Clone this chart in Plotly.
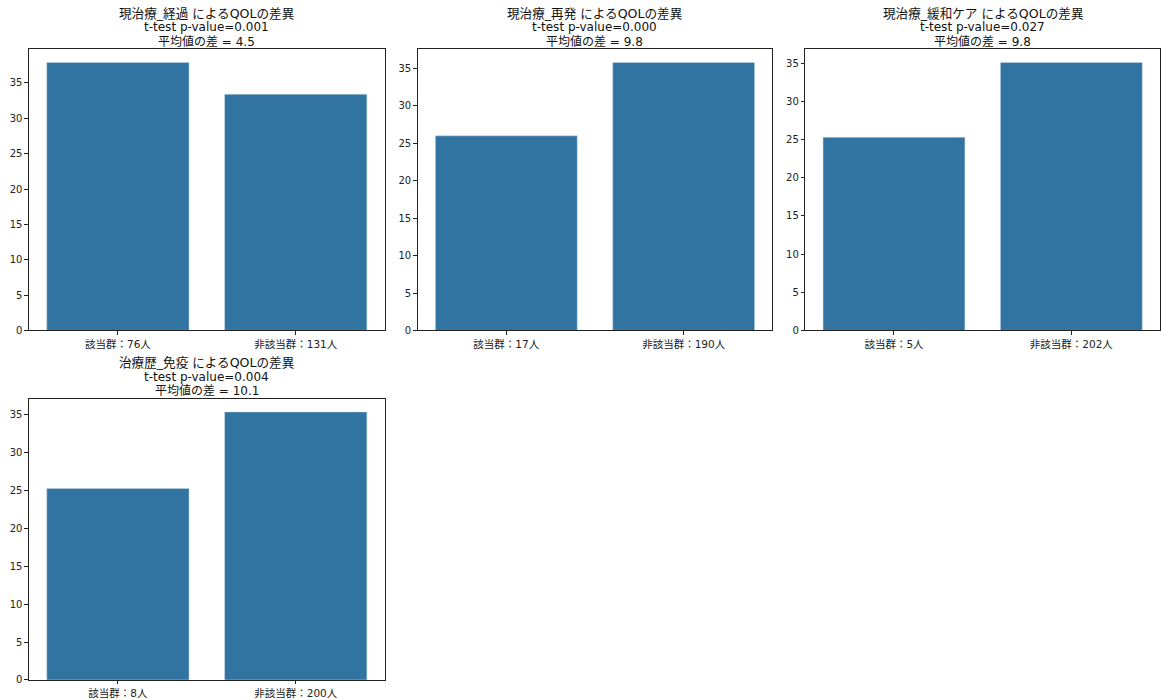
import plotly.graph_objects as go

W, H = 1161, 707
SY = H / 700.0  # vertical compensation so the photographed page matches the reference

titles = ["現治療_経過 によるQOLの差異", "現治療_再発 によるQOLの差異",
          "現治療_緩和ケア によるQOLの差異", "治療歴_免疫 によるQOLの差異"]
pvalues = ["0.001", "0.000", "0.027", "0.004"]
mean_diffs = ["4.5", "9.8", "9.8", "10.1"]
categories = [["該当群：76人", "非該当群：131人"],
              ["該当群：17人", "非該当群：190人"],
              ["該当群：5人", "非該当群：202人"],
              ["該当群：8人", "非該当群：200人"]]
values = [[37.9, 33.4],
          [26.0, 35.8],
          [25.3, 35.1],
          [25.3, 35.4]]

# pixel boxes in the reference picture (x0, x1, ytop, ybottom)
boxes = [(29, 385, 49, 330), (418, 773, 49, 330), (806, 1161, 49, 330), (29, 385, 398, 679)]

FONT = "DejaVu Sans, Noto Sans CJK JP, sans-serif"
fig = go.Figure()
annotations = []
layout = {}
for i in range(4):
    sfx = "" if i == 0 else str(i + 1)
    x0, x1, yt, yb = boxes[i]
    fig.add_trace(go.Bar(x=categories[i], y=values[i], xaxis="x" + sfx, yaxis="y" + sfx,
                         marker=dict(color="#3274a1", line=dict(color="#c9dbe8", width=0.5)),
                         width=0.8, showlegend=False, hoverinfo="skip"))
    ymax = max(values[i]) * 1.05
    layout["xaxis" + sfx] = dict(domain=[x0 / W, x1 / W], anchor="y" + sfx, range=[-0.5, 1.5],
                                 showline=True, mirror=True, linecolor="#222", linewidth=1,
                                 ticks="outside", ticklen=3.5, tickcolor="#222",
                                 tickfont=dict(size=10.5, color="#222", family=FONT),
                                 showgrid=False, zeroline=False, fixedrange=True)
    layout["yaxis" + sfx] = dict(domain=[1 - yb * SY / H, 1 - yt * SY / H], anchor="x" + sfx,
                                 range=[0, ymax], dtick=5, showline=True, mirror=True,
                                 linecolor="#222", linewidth=1,
                                 ticks="outside", ticklen=3.5, tickcolor="#222",
                                 tickfont=dict(size=10, color="#222", family=FONT),
                                 showgrid=False, zeroline=False, fixedrange=True)
    lines = [titles[i], f"t-test p-value={pvalues[i]}", f"平均値の差 = {mean_diffs[i]}"]
    sizes = [12.6, 12, 12]
    for k, line in enumerate(lines):
        cy = yt - 8 - (2 - k) * 14
        annotations.append(dict(text=line, xref="paper", yref="paper",
                                x=(x0 + x1) / 2 / W, y=1 - cy * SY / H,
                                xanchor="center", yanchor="middle",
                                showarrow=False, align="center",
                                font=dict(size=sizes[k], color="#111", family=FONT)))

fig.update_layout(width=W, height=H, margin=dict(l=0, r=0, t=0, b=0),
                  paper_bgcolor="white", plot_bgcolor="white", bargap=0.2,
                  annotations=annotations, **layout)
fig.write_html("out.html", config={"displayModeBar": False},
               post_script="document.body.style.margin='0';document.body.style.overflow='hidden';")
